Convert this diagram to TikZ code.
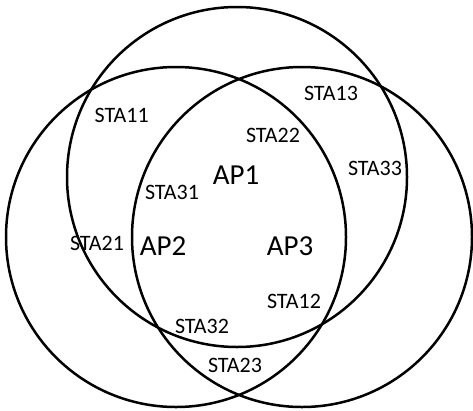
\documentclass[tikz,border=0pt]{standalone}
\usepackage{fontspec}
\setmainfont{Carlito}
\begin{document}
\begin{tikzpicture}[x=1pt,y=-1pt,
  ring/.style={draw=black,line width=2.5pt},
  sta/.style={inner sep=0pt,text depth=0pt,font=\fontsize{22}{24}\selectfont},
  ap/.style={inner sep=0pt,text depth=0pt,font=\fontsize{29}{32}\selectfont}]
  \useasboundingbox (0,0) rectangle (473,410);
  % coverage areas of the three access points
  \draw[ring] (237,177) circle[radius=170];
  \draw[ring] (176,237) circle[radius=170];
  \draw[ring] (302,237) circle[radius=170];
  % access points
  \node[ap] (ap1) at (236,175) {AP1};
  \node[ap] (ap2) at (163,246) {AP2};
  \node[ap] (ap3) at (290,246) {AP3};
  % stations
  \node[sta] (sta11) at (121.7,115.8) {STA11};
  \node[sta] (sta13) at (331,93.3) {STA13};
  \node[sta] (sta22) at (273,135) {STA22};
  \node[sta] (sta33) at (375,168) {STA33};
  \node[sta] (sta31) at (172,192.5) {STA31};
  \node[sta] (sta21) at (97,243) {STA21};
  \node[sta] (sta12) at (294,301.7) {STA12};
  \node[sta] (sta32) at (202,326.7) {STA32};
  \node[sta] (sta23) at (235,365) {STA23};
\end{tikzpicture}
\end{document}
